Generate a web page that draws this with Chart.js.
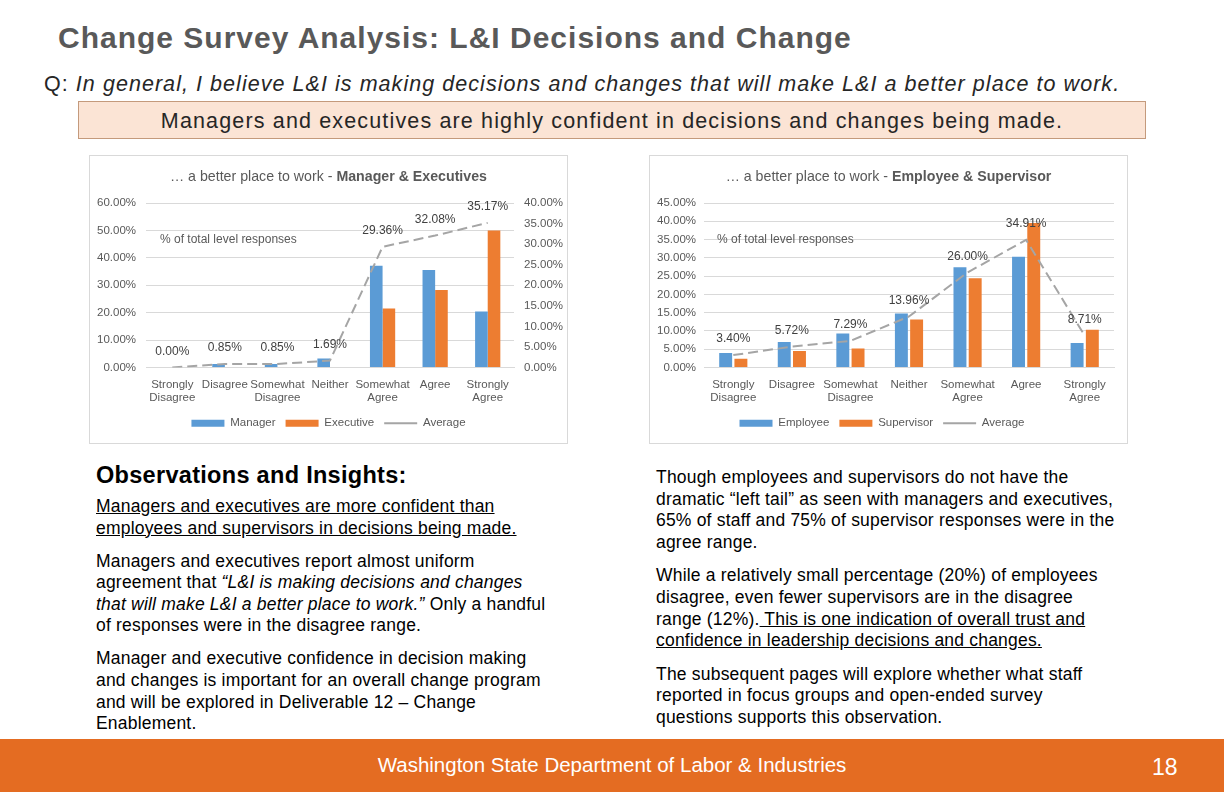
<!DOCTYPE html>
<html>
<head>
<meta charset="utf-8">
<script src="https://cdn.jsdelivr.net/npm/chart.js@4.4.0/dist/chart.umd.min.js"></script>
<style>
  body { margin: 0; width: 1224px; height: 792px; position: relative; overflow: hidden; background: #fff; font-family: "Liberation Sans", Arial, sans-serif; }
  .abs { position: absolute; }
  #title { left: 58px; top: 21px; font-size: 30px; font-weight: bold; color: #595959; letter-spacing: 1px; white-space: nowrap; }
  #question { left: 44px; top: 72px; font-size: 21.5px; color: #262626; letter-spacing: 1.05px; white-space: nowrap; }
  #banner { left: 78px; top: 101px; width: 1066px; height: 36px; background: #fbe4d5; border: 1px solid #c49a7c; font-size: 21.5px; color: #262626; text-align: center; line-height: 38px; letter-spacing: 1.15px; white-space: nowrap; }
  .chartbox { width: 477px; height: 287px; border: 1px solid #d9d9d9; background: #fff; }
  .ctitle { width: 477px; text-align: center; font-size: 14.2px; color: #595959; top: 12px; left: 0; white-space: nowrap; }
  .note { font-size: 12px; color: #595959; }
  .col { font-size: 17.5px; line-height: 21.6px; color: #000; letter-spacing: 0.2px; }
  .col p { margin: 0 0 11.4px 0; }
  #rightcol p { margin-bottom: 12px; }
  #foot { left: 0; top: 739px; width: 1224px; height: 53px; background: #e46c22; }
  #foottext { left: 0; width: 1224px; top: 753px; text-align: center; color: #fff; font-size: 20.5px; }
  #pagenum { left: 1152px; top: 754px; color: #fff; font-size: 23px; }
</style>
</head>
<body>
<div id="title" class="abs">Change Survey Analysis: L&amp;I Decisions and Change</div>
<div id="question" class="abs">Q: <i>In general, I believe L&amp;I is making decisions and changes that will make L&amp;I a better place to work.</i></div>
<div id="banner" class="abs">Managers and executives are highly confident in decisions and changes being made.</div>

<div class="abs chartbox" style="left:89px; top:155px;">
  <canvas id="mgrChart" width="477" height="287"></canvas>
  <div class="abs ctitle">… a better place to work - <b>Manager &amp; Executives</b></div>
  <div class="abs note" style="left:70px; top:76px;">% of total level responses</div>
</div>
<div class="abs chartbox" style="left:649px; top:155px;">
  <canvas id="empChart" width="477" height="287"></canvas>
  <div class="abs ctitle">… a better place to work - <b>Employee &amp; Supervisor</b></div>
  <div class="abs note" style="left:67px; top:76px;">% of total level responses</div>
</div>

<div class="abs col" style="left:96px; top:461px; width:460px;">
  <div style="font-size:23.5px; font-weight:bold; line-height:28px; margin-bottom:7px; letter-spacing:0.3px;">Observations and Insights:</div>
  <p><u>Managers and executives are more confident than employees and supervisors in decisions being made.</u></p>
  <p>Managers and executives report almost uniform agreement that <i>“L&amp;I is making decisions and changes that will make L&amp;I a better place to work.”</i> Only a handful of responses were in the disagree range.</p>
  <p>Manager and executive confidence in decision making and changes is important for an overall change program and will be explored in Deliverable 12 – Change Enablement.</p>
</div>
<div id="rightcol" class="abs col" style="left:656px; top:467px; width:466px;">
  <p>Though employees and supervisors do not have the dramatic “left tail” as seen with managers and executives, 65% of staff and 75% of supervisor responses were in the agree range.</p>
  <p>While a relatively small percentage (20%) of employees disagree, even fewer supervisors are in the disagree range (12%).<u> This is one indication of overall trust and confidence in leadership decisions and changes.</u></p>
  <p>The subsequent pages will explore whether what staff reported in focus groups and open-ended survey questions supports this observation.</p>
</div>

<div id="foot" class="abs"></div>
<div id="foottext" class="abs">Washington State Department of Labor &amp; Industries</div>
<div id="pagenum" class="abs">18</div>

<script>
const levels = [['Strongly', 'Disagree'], 'Disagree', ['Somewhat', 'Disagree'], 'Neither', ['Somewhat', 'Agree'], 'Agree', ['Strongly', 'Agree']];

const managerPct = [0, 1.3, 1.3, 3.3, 37.1, 35.6, 20.4];
const executivePct = [0, 0, 0, 0, 21.5, 28.3, 50.0];
const mgrExecAverage = [0.00, 0.85, 0.85, 1.69, 29.36, 32.08, 35.17];

const employeePct = [4.0, 7.0, 9.3, 14.8, 27.4, 30.3, 6.7];
const supervisorPct = [2.4, 4.5, 5.2, 13.1, 24.4, 39.5, 10.3];
const empSupAverage = [3.40, 5.72, 7.29, 13.96, 26.00, 34.91, 8.71];

const BLUE = '#5b9bd5';
const ORANGE = '#ed7d31';
const GRAY = '#a5a5a5';
const TEXT = '#595959';

Chart.defaults.font.family = '"Liberation Sans", Arial, sans-serif';
Chart.defaults.font.size = 11.5;
Chart.defaults.color = TEXT;

// labels above the average line points
const avgLabels = {
  id: 'avgLabels',
  afterDatasetsDraw(chart) {
    const ctx = chart.ctx;
    chart.data.datasets.forEach((ds, i) => {
      if (ds.type !== 'line') return;
      const meta = chart.getDatasetMeta(i);
      ctx.save();
      ctx.font = '12px "Liberation Sans", Arial, sans-serif';
      ctx.fillStyle = '#404040';
      ctx.textAlign = 'center';
      ctx.textBaseline = 'middle';
      meta.data.forEach((pt, j) => {
        ctx.fillText(ds.data[j].toFixed(2) + '%', pt.x, pt.y - 16);
      });
      ctx.restore();
    });
  }
};

const pct = v => v.toFixed(2) + '%';

function makeChart(id, names, a, b, avg, opts) {
  const scales = {
    x: {
      grid: { display: false, drawTicks: false },
      border: { color: '#d9d9d9' },
      ticks: { color: TEXT, maxRotation: 0, autoSkip: false, padding: 10 },
      afterFit: s => { s.height = 40; }
    },
    y: {
      min: 0, max: opts.leftMax,
      ticks: { stepSize: opts.leftStep, callback: pct, color: TEXT, padding: opts.leftPad },
      grid: { color: '#d9d9d9', drawTicks: false },
      border: { display: false },
      afterFit: s => { s.width = opts.leftWidth; }
    }
  };
  if (opts.rightMax) {
    scales.y2 = {
      position: 'right', min: 0, max: opts.rightMax,
      ticks: { stepSize: opts.rightStep, callback: pct, color: TEXT, padding: 10 },
      grid: { display: false, drawTicks: false },
      border: { display: false },
      afterFit: s => { s.width = opts.rightWidth; }
    };
  }
  return new Chart(document.getElementById(id), {
    type: 'bar',
    data: {
      labels: levels,
      datasets: [
        { label: names[0], data: a, backgroundColor: BLUE, pointStyle: 'rect', yAxisID: 'y', order: 2,
          barPercentage: opts.barPct, categoryPercentage: opts.catPct },
        { label: names[1], data: b, backgroundColor: ORANGE, pointStyle: 'rect', yAxisID: 'y', order: 2,
          barPercentage: opts.barPct, categoryPercentage: opts.catPct },
        { type: 'line', label: 'Average', data: avg, borderColor: GRAY, backgroundColor: GRAY,
          borderWidth: 2, borderDash: [10, 5], pointRadius: 0, tension: 0, pointStyle: 'line',
          yAxisID: opts.rightMax ? 'y2' : 'y', order: 1 }
      ]
    },
    options: {
      responsive: false,
      animation: false,
      layout: { padding: opts.padding },
      plugins: {
        legend: {
          position: 'bottom',
          labels: {
            usePointStyle: true, pointStyleWidth: 33, boxHeight: 7, padding: 10, color: TEXT,
            font: { size: 11.5 },
            sort: (p, q) => p.datasetIndex - q.datasetIndex
          }
        },
        tooltip: { enabled: false }
      },
      scales: scales
    },
    plugins: [avgLabels]
  });
}

makeChart('mgrChart', ['Manager', 'Executive'], managerPct, executivePct, mgrExecAverage,
  { leftMax: 60, leftStep: 10, rightMax: 40, rightStep: 5, barPct: 1, catPct: 0.48,
    leftWidth: 56, leftPad: 10, rightWidth: 53,
    padding: { top: 47, left: 0, right: 0, bottom: 4 } });
makeChart('empChart', ['Employee', 'Supervisor'], employeePct, supervisorPct, empSupAverage,
  { leftMax: 45, leftStep: 5, barPct: 0.85, catPct: 0.52,
    leftWidth: 54, leftPad: 8,
    padding: { top: 47, left: 0, right: 13, bottom: 4 } });
</script>
</body>
</html>
